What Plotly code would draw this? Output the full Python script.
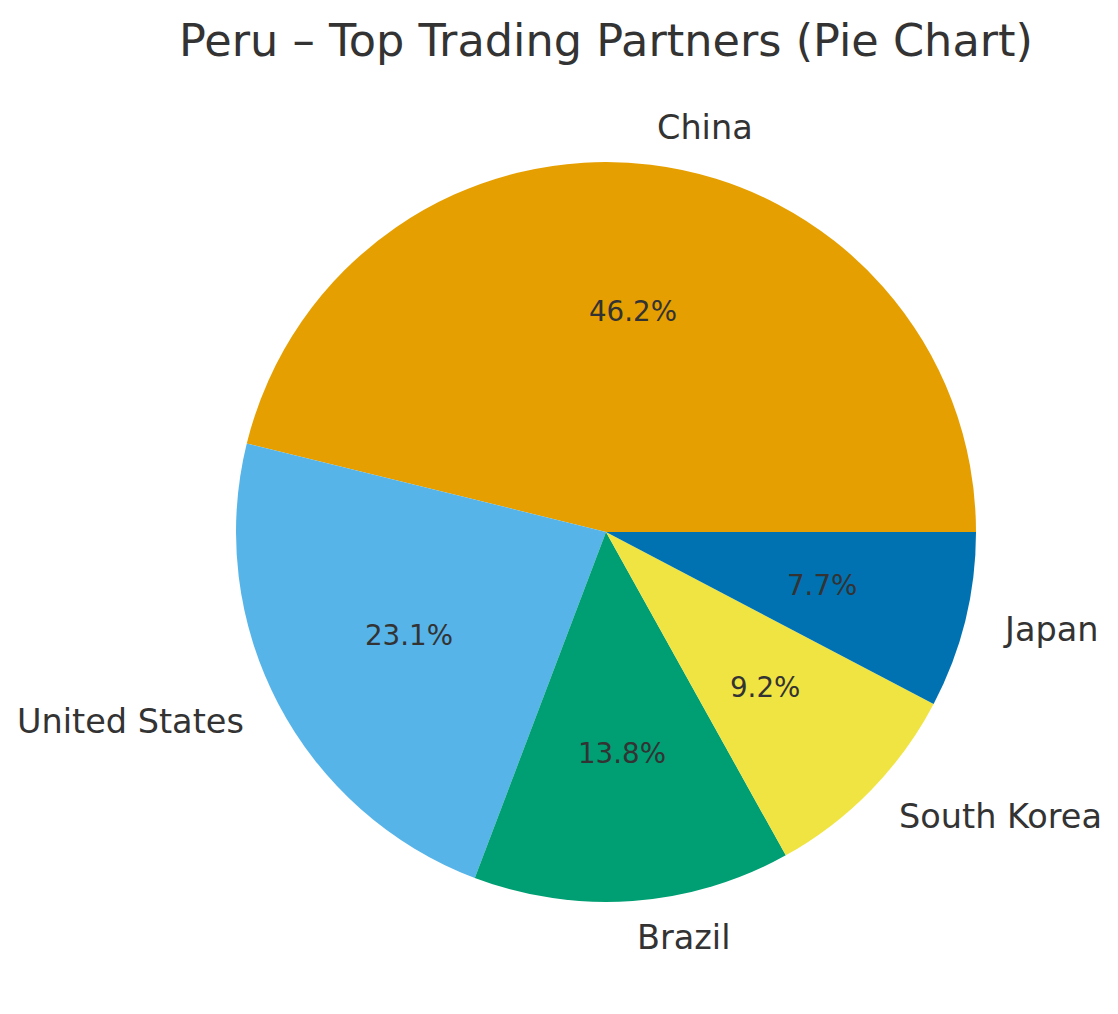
import math
import plotly.graph_objects as go

# Data
partners = ["China", "United States", "Brazil", "South Korea", "Japan"]
values = [30, 15, 9, 6, 5]
colors = ["#E69F00", "#56B4E9", "#009E73", "#F0E442", "#0072B2"]
title_text = "Peru \u2013 Top Trading Partners (Pie Chart)"

# Layout geometry (pixels); page body adds ~8px offset
W, H = 1118, 1014
OFF = 7
CX, CY, R = 605 - OFF, 531 - OFF, 370
TEXT_COLOR = "#333333"
FONT = "DejaVu Sans"

total = sum(values)
first_deg = 360 * values[0] / total

fig = go.Figure()
fig.add_trace(go.Pie(
    labels=partners,
    values=values,
    marker=dict(colors=colors, line=dict(width=0)),
    sort=False,
    direction="counterclockwise",
    rotation=90 - first_deg,
    textinfo="none",
    showlegend=False,
    domain=dict(x=[(CX - R) / W, (CX + R) / W],
                y=[1 - (CY + R) / H, 1 - (CY - R) / H]),
))

annotations = []
start = 0.0
for name, v in zip(partners, values):
    frac = v / total
    mid = (start + frac / 2) * 2 * math.pi
    start += frac
    c, s = math.cos(mid), math.sin(mid)
    px = CX + 0.6 * R * c
    py = CY - 0.6 * R * s
    annotations.append(dict(
        x=px / W, y=1 - py / H, xref="paper", yref="paper",
        text=f"{frac * 100:.1f}%", showarrow=False,
        xanchor="center", yanchor="middle",
        font=dict(family=FONT, size=27.7, color=TEXT_COLOR)))
    lx = CX + 1.1 * R * c
    ly = CY - 1.1 * R * s
    annotations.append(dict(
        x=lx / W, y=1 - ly / H, xref="paper", yref="paper",
        text=name, showarrow=False,
        xanchor="left" if c > 0 else "right", yanchor="middle",
        font=dict(family=FONT, size=33.5, color=TEXT_COLOR)))

annotations.append(dict(
    x=CX / W, y=1 - (40 - OFF) / H, xref="paper", yref="paper",
    text=title_text, showarrow=False,
    xanchor="center", yanchor="middle",
    font=dict(family=FONT, size=44.6, color=TEXT_COLOR)))

fig.update_layout(
    width=W, height=H,
    margin=dict(l=0, r=0, t=0, b=0),
    paper_bgcolor="white",
    plot_bgcolor="white",
    annotations=annotations,
)

fig.write_html("out.html")
